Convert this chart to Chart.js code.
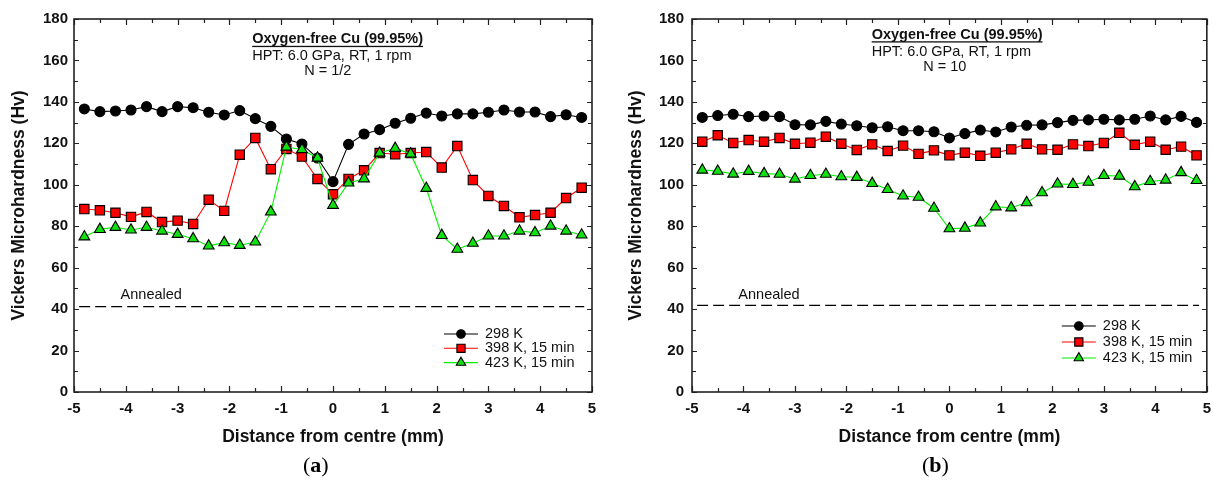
<!DOCTYPE html>
<html>
<head>
<meta charset="utf-8">
<script src="https://cdn.jsdelivr.net/npm/chart.js@4.4.1/dist/chart.umd.min.js"></script>
<style>
  html, body { margin: 0; padding: 0; background: #fff; }
  #wrap { position: relative; width: 1213px; height: 484px; overflow: hidden; }
  canvas { position: absolute; top: 0; }
  #chartA { left: 0; }
  #chartB { left: 606px; }
  .tag { position: absolute; top: 452px; font-family: 'Liberation Serif', 'DejaVu Serif', serif; font-size: 22px; color: #000; }
  .tag b { font-weight: bold; }
</style>
</head>
<body>
<div id="wrap">
  <canvas id="chartA" width="606" height="484"></canvas>
  <canvas id="chartB" width="613" height="484"></canvas>
  <div class="tag" style="left:303px">(<b>a</b>)</div>
  <div class="tag" style="left:922px">(<b>b</b>)</div>
</div>
<script>
// measurement positions across the disc (mm)
const distance = [-4.8, -4.5, -4.2, -3.9, -3.6, -3.3, -3.0, -2.7, -2.4, -2.1, -1.8, -1.5, -1.2, -0.9, -0.6, -0.3,
	0, 0.3, 0.6, 0.9, 1.2, 1.5, 1.8, 2.1, 2.4, 2.7, 3.0, 3.3, 3.6, 3.9, 4.2, 4.5, 4.8];

// (a) N = 1/2
const halfRT = [136.6, 135.3, 135.6, 136.1, 137.7, 135.3, 137.7, 137.2, 135.0, 133.7, 135.8, 131.9, 128.2, 122.1, 119.7, 112.9,
	101.5, 119.5, 124.5, 126.6, 129.7, 132.1, 134.6, 133.2, 134.2, 134.2, 135.0, 136.1, 135.1, 135.1, 132.9, 133.8, 132.5];
const half398 = [88.3, 87.7, 86.5, 84.5, 86.9, 82.0, 82.7, 81.1, 92.8, 87.4, 114.5, 122.6, 107.5, 117.3, 113.6, 102.8,
	95.4, 102.8, 107.0, 115.3, 114.7, 115.3, 115.8, 108.3, 118.7, 102.3, 94.6, 89.8, 84.3, 85.4, 86.5, 93.6, 98.6];
const half423 = [74.9, 78.5, 79.5, 78.2, 79.5, 77.7, 76.1, 74.0, 70.5, 72.1, 70.8, 72.4, 86.9, 118.2, 117.0, 112.9,
	90.1, 100.9, 102.9, 115.3, 117.6, 114.9, 98.3, 75.6, 68.9, 71.8, 75.3, 75.3, 77.7, 76.9, 80.1, 77.7, 75.8];

// (b) N = 10
const tenRT = [132.5, 133.4, 134.0, 132.9, 133.2, 132.9, 129.0, 128.9, 130.6, 129.3, 128.5, 127.5, 128.0, 126.1, 126.1, 125.6,
	122.6, 124.7, 126.4, 125.5, 127.9, 128.7, 128.9, 130.0, 131.1, 131.3, 131.6, 131.3, 131.6, 133.2, 131.3, 133.0, 130.1];
const ten398 = [120.8, 123.9, 120.2, 121.6, 120.8, 122.6, 119.8, 120.3, 123.2, 119.8, 116.8, 119.5, 116.3, 118.9, 114.9, 116.6,
	114.2, 115.5, 114.0, 115.5, 117.1, 119.8, 117.1, 116.9, 119.5, 118.7, 120.2, 125.1, 119.3, 120.8, 116.9, 118.4, 114.2];
const ten423 = [107.1, 106.6, 105.2, 106.5, 105.4, 105.1, 102.8, 104.5, 105.1, 103.9, 103.6, 100.7, 97.8, 94.6, 94.0, 88.7,
	78.8, 79.1, 81.6, 89.4, 88.9, 91.4, 96.2, 100.4, 100.2, 101.3, 104.5, 104.2, 99.1, 101.6, 102.3, 105.9, 102.1];

// annealed reference hardness and the span of its dashed line
const annealedA = 41.2;
const annealedB = 41.8;
const annealedSpan = [-4.9, 4.85];

const seriesLabels = ['298 K', '398 K, 15 min', '423 K, 15 min'];
const xTicks = { min: -5, max: 5, step: 1 };
const yTicks = { min: 0, max: 180, step: 20 };

const FONT = "'Liberation Sans', Arial, Helvetica, sans-serif";
Chart.defaults.font.family = FONT;
Chart.defaults.color = '#111';

const styles = [
	{ line: '#000000', fill: '#000000', pointStyle: 'circle', radius: 5, legendRadius: 4.3 },
	{ line: '#ff0000', fill: '#ff0000', pointStyle: 'rect', radius: 6.6, legendRadius: 5.8 },
	{ line: '#00f000', fill: '#10e010', pointStyle: 'triangle', radius: 6.2, legendRadius: 5.4 },
];

function toPoints(values) {
	return values.map((v, i) => ({ x: distance[i], y: v }));
}

function makeDatasets(series, annealed) {
	const sets = series.map((values, i) => ({
		label: seriesLabels[i],
		data: toPoints(values),
		borderColor: styles[i].line,
		borderWidth: 1.1,
		pointStyle: styles[i].pointStyle,
		pointRadius: styles[i].radius,
		pointBackgroundColor: styles[i].fill,
		pointBorderColor: '#000',
		pointBorderWidth: 1.1,
		tension: 0,
		order: 3 - i,
	}));
	sets.push({
		label: 'Annealed',
		data: annealedSpan.map((x) => ({ x, y: annealed })),
		borderColor: '#000',
		borderWidth: 1.2,
		borderDash: [11, 5],
		pointRadius: 0,
		order: 10,
	});
	return sets;
}

const framePlugin = {
	id: 'frame',
	afterDatasetsDraw(chart) {
		const { ctx, chartArea: a, scales: { x, y } } = chart;
		ctx.save();
		ctx.strokeStyle = '#222';
		ctx.lineWidth = 1.2;
		ctx.beginPath();
		for (let v = xTicks.min; v <= xTicks.max; v += 0.5) {
			const px = Math.round(x.getPixelForValue(v)) + 0.5;
			const len = Number.isInteger(v) ? 6 : 4;
			ctx.moveTo(px, a.bottom); ctx.lineTo(px, a.bottom - len);
			ctx.moveTo(px, a.top); ctx.lineTo(px, a.top + len);
		}
		for (let v = yTicks.min; v <= yTicks.max; v += 10) {
			const py = Math.round(y.getPixelForValue(v)) + 0.5;
			const len = v % 20 === 0 ? 5 : 4;
			ctx.moveTo(a.left, py); ctx.lineTo(a.left + len, py);
			ctx.moveTo(a.right, py); ctx.lineTo(a.right - len, py);
		}
		ctx.stroke();
		ctx.lineWidth = 1.6;
		ctx.strokeRect(a.left, a.top, a.right - a.left, a.bottom - a.top);
		ctx.restore();
	},
};

const notesPlugin = {
	id: 'notes',
	afterDraw(chart, args, opts) {
		const { ctx, chartArea: a, scales: { x, y } } = chart;
		ctx.save();
		ctx.fillStyle = '#111';
		ctx.textBaseline = 'middle';

		// header block
		const tx = x.getPixelForValue(opts.headX);
		ctx.textAlign = 'left';
		ctx.font = `bold 14.5px ${FONT}`;
		const ty = y.getPixelForValue(opts.headY);
		ctx.fillText('Oxygen-free Cu (99.95%)', tx, ty);
		const w = ctx.measureText('Oxygen-free Cu (99.95%)').width;
		ctx.fillRect(tx, ty + 6.5, w, 1.3);
		ctx.font = `14.5px ${FONT}`;
		ctx.fillText('HPT: 6.0 GPa, RT, 1 rpm', tx, y.getPixelForValue(opts.headY - 8.2));
		ctx.textAlign = 'center';
		ctx.fillText(opts.turns, x.getPixelForValue(opts.turnsX), y.getPixelForValue(opts.headY - 15.5));

		// annealed label
		ctx.textAlign = 'left';
		ctx.fillText('Annealed', x.getPixelForValue(-4.1), y.getPixelForValue(opts.annealedLabelY));

		// legend
		chart.data.datasets.slice(0, 3).forEach((ds, i) => {
			const ly = a.bottom + opts.legendTop + i * opts.legendGap;
			const lx = a.right + opts.legendLeft;
			ctx.strokeStyle = ds.borderColor;
			ctx.lineWidth = 1.1;
			ctx.beginPath();
			ctx.moveTo(lx, ly); ctx.lineTo(lx + 34, ly);
			ctx.stroke();
			ctx.fillStyle = ds.pointBackgroundColor;
			ctx.strokeStyle = '#000';
			Chart.helpers.drawPoint(ctx, {
				pointStyle: ds.pointStyle,
				radius: styles[i].legendRadius,
				rotation: 0,
				borderWidth: 1.1,
			}, lx + 17, ly);
			ctx.fillStyle = '#111';
			ctx.font = `14.5px ${FONT}`;
			ctx.fillText(ds.label, lx + 41, ly);
		});
		ctx.restore();
	},
};

function createChart(id, series, annealed, box, notes) {
	const ctx = document.getElementById(id).getContext('2d');
	return new Chart(ctx, {
		type: 'line',
		data: { datasets: makeDatasets(series, annealed) },
		options: {
			responsive: false,
			animation: false,
			events: [],
			layout: { padding: { top: box.top, right: box.right, left: 0, bottom: 0 } },
			plugins: {
				legend: { display: false },
				tooltip: { enabled: false },
				notes: notes,
			},
			scales: {
				x: {
					type: 'linear',
					min: xTicks.min,
					max: xTicks.max,
					grid: { display: false, drawTicks: false },
					border: { display: false },
					ticks: { stepSize: xTicks.step, padding: 8, font: { size: 15, weight: 'bold' }, color: '#111' },
					title: {
						display: true,
						text: 'Distance from centre (mm)',
						font: { size: 17.5, weight: 'bold' },
						color: '#111',
						padding: { bottom: 36 },
					},
					afterFit(scale) { scale.height = box.xHeight; },
				},
				y: {
					min: yTicks.min,
					max: yTicks.max,
					grid: { display: false, drawTicks: false },
					border: { display: false },
					ticks: { stepSize: yTicks.step, padding: box.yPad, font: { size: 15, weight: 'bold' }, color: '#111' },
					title: {
						display: true,
						text: 'Vickers Microhardness (Hv)',
						font: { size: 17.5, weight: 'bold' },
						color: '#111',
						padding: { top: box.titleTop },
					},
					afterFit(scale) { scale.width = box.yWidth; },
				},
			},
		},
		plugins: [framePlugin, notesPlugin],
	});
}

document.addEventListener('DOMContentLoaded', () => {
	createChart('chartA', [halfRT, half398, half423], annealedA,
		{ top: 19, right: 14, yWidth: 74, yPad: 6, xHeight: 92, titleTop: 9 },
		{ headX: -1.56, headY: 170.2, turns: 'N = 1/2', turnsX: -0.1, annealedLabelY: 47,
			legendLeft: -148, legendTop: -58, legendGap: 14.3 });
	createChart('chartB', [tenRT, ten398, ten423], annealedB,
		{ top: 19, right: 10, yWidth: 86, yPad: 8, xHeight: 92, titleTop: 20 },
		{ headX: -1.51, headY: 172.4, turns: 'N = 10', turnsX: -0.09, annealedLabelY: 46.8,
			legendLeft: -145, legendTop: -66, legendGap: 16 });
});
</script>
</body>
</html>
